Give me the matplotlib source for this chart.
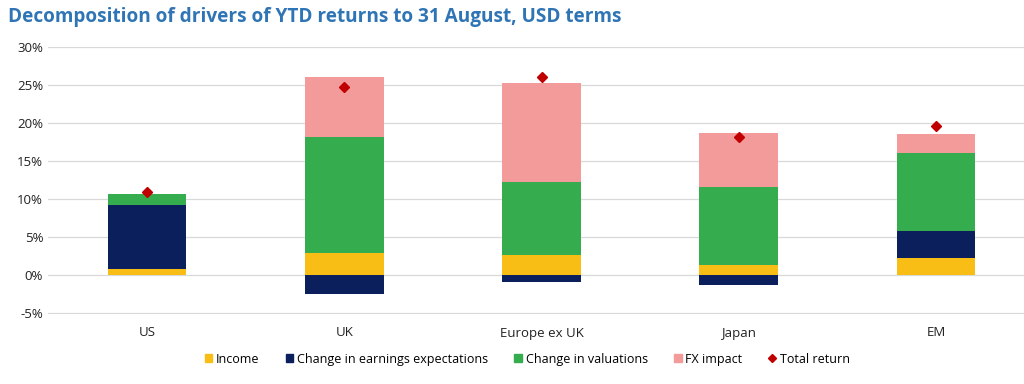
import numpy as np
import matplotlib.pyplot as plt
from matplotlib.lines import Line2D
from matplotlib.patches import Patch

plt.rcParams['font.family'] = ['Open Sans', 'DejaVu Sans']

regions = ['US', 'UK', 'Europe ex UK', 'Japan', 'EM']
income = [0.8, 2.9, 2.7, 1.3, 2.2]
earnings = [8.4, -2.5, -0.9, -1.3, 3.6]
valuations = [1.5, 15.2, 9.5, 10.3, 10.2]
fx = [0.0, 7.9, 13.1, 7.1, 2.5]
total = [10.9, 24.7, 26.0, 18.1, 19.6]

c_inc = '#F8BE15'
c_earn = '#0B1F5C'
c_val = '#35AD4F'
c_fx = '#F39B9A'
c_tot = '#C00000'

fig = plt.figure(figsize=(10.24, 3.84), dpi=100)
ax = fig.add_axes([48/1024, 1-314/384, 1-48/1024, (314-47)/384])

x = np.arange(len(regions))
w = 0.4
inc = np.array(income)
earn = np.array(earnings)
val = np.array(valuations)
fxa = np.array(fx)

pos = np.zeros(len(x))
neg = np.zeros(len(x))
for vals, col in [(inc, c_inc), (earn, c_earn), (val, c_val), (fxa, c_fx)]:
    bottoms = np.where(vals >= 0, pos, neg)
    ax.bar(x, vals, w, bottom=bottoms, color=col, zorder=2)
    pos = pos + np.where(vals >= 0, vals, 0)
    neg = neg + np.where(vals < 0, vals, 0)

ax.plot(x, total, 'D', color=c_tot, markersize=5, zorder=3)

ax.set_ylim(-5.12, 30)
ax.set_xlim(-0.502, 4.446)
ax.set_yticks(np.arange(-5, 31, 5))
ax.set_yticklabels([f'{v}%' for v in range(-5, 31, 5)])
ax.set_xticks(x)
ax.set_xticklabels(regions)
ax.grid(axis='y', color='#D9D9D9', linewidth=0.9, zorder=0)
for s in ax.spines.values():
    s.set_visible(False)
ax.tick_params(length=0, labelsize=9.5, colors='#222222')
ax.tick_params(axis='x', pad=9)

fig.text(0.008, 0.955, 'Decomposition of drivers of YTD returns to 31 August, USD terms',
         fontsize=13.7, fontweight='bold', color='#2F75B5', va='center')

handles = [Patch(color=c_inc, label='Income'),
           Patch(color=c_earn, label='Change in earnings expectations'),
           Patch(color=c_val, label='Change in valuations'),
           Patch(color=c_fx, label='FX impact'),
           Line2D([], [], marker='D', color=c_tot, linestyle='', markersize=4, label='Total return')]
fig.legend(handles=handles, loc='center', bbox_to_anchor=(0.515, 0.065), ncol=5, frameon=False,
           fontsize=9, handlelength=0.6, handleheight=0.6, handletextpad=0.3, columnspacing=2.1)

fig.savefig('out.png', dpi=100)
